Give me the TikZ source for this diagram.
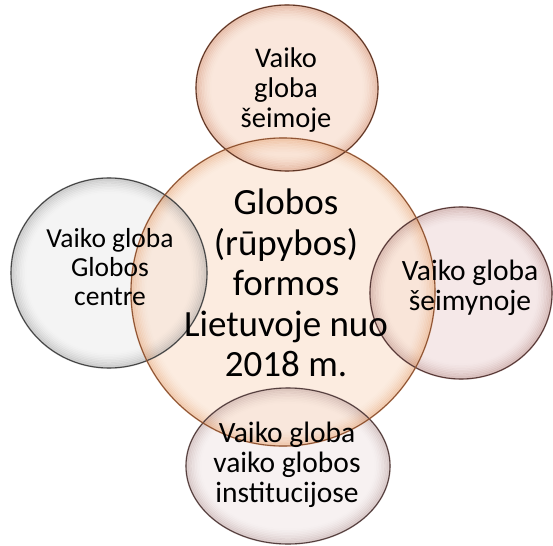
\documentclass[tikz,border=0pt]{standalone}
\usepackage{fontspec}
\setmainfont{Carlito}
\definecolor{cenIn}{HTML}{FBE4D4}
\definecolor{cenOut}{HTML}{E0925A}
\definecolor{cenLine}{HTML}{8E5434}
\definecolor{topIn}{HTML}{F9E2D5}
\definecolor{topOut}{HTML}{C87A58}
\definecolor{topLine}{HTML}{5E3626}
\definecolor{lefIn}{HTML}{F2F2F2}
\definecolor{lefOut}{HTML}{8A8A8A}
\definecolor{lefLine}{HTML}{454545}
\definecolor{rigIn}{HTML}{F4E4E3}
\definecolor{rigOut}{HTML}{A87670}
\definecolor{rigLine}{HTML}{573A38}
\definecolor{botIn}{HTML}{F6EEEE}
\definecolor{botOut}{HTML}{A88886}
\definecolor{botLine}{HTML}{543F3E}
\newcommand{\bubRing}[4]{%
  \foreach \k in {0,...,9}{%
    \pgfmathsetmacro\bop{0.36*(1-\k/10)^1.6}%
    \draw[draw=#4, draw opacity=\bop, line width=1.8pt] (#1) ellipse [x radius=#2pt-\k*1.6pt, y radius=#3pt-\k*1.6pt];
  }}
\begin{document}
\begin{tikzpicture}[x=1pt,y=-1pt,
  bubble/.style={fill=#1, fill opacity=0.82},
  rim/.style={draw=#1, line width=1.1pt},
  bigtxt/.style={align=center, inner sep=0pt, text=black, font=\fontsize{37}{40.5}\selectfont},
  smalltxt/.style={align=center, inner sep=0pt, text=black, font=\fontsize{#1}{30}\selectfont}]
\useasboundingbox (0,0) rectangle (553,545);
\fill[white] (0,0) rectangle (553,545);
\coordinate (pCen) at (283,292);
\coordinate (pTop) at (287,88);
\coordinate (pLef) at (109,273);
\coordinate (pRig) at (461,293);
\coordinate (pBot) at (288,466);
% fills
\path[bubble=topIn] (pTop) ellipse [x radius=91pt, y radius=83pt];
\path[bubble=lefIn] (pLef) ellipse [x radius=98pt, y radius=95pt];
\path[bubble=rigIn] (pRig) ellipse [x radius=91pt, y radius=86pt];
\path[bubble=botIn] (pBot) ellipse [x radius=102pt, y radius=78pt];
\path[bubble=cenIn, fill opacity=0.7] (pCen) ellipse [x radius=152pt, y radius=154pt];
% rim glow
\bubRing{pTop}{91}{83}{topOut}
\bubRing{pLef}{98}{95}{lefOut}
\bubRing{pRig}{91}{86}{rigOut}
\bubRing{pBot}{102}{78}{botOut}
\bubRing{pCen}{152}{154}{cenOut}
% outlines
\draw[rim=topLine] (pTop) ellipse [x radius=91pt, y radius=83pt];
\draw[rim=lefLine] (pLef) ellipse [x radius=98pt, y radius=95pt];
\draw[rim=rigLine] (pRig) ellipse [x radius=91pt, y radius=86pt];
\draw[rim=botLine] (pBot) ellipse [x radius=102pt, y radius=78pt];
\draw[rim=cenLine] (pCen) ellipse [x radius=152pt, y radius=154pt];
% texts
\node[bigtxt] (tCen) at (286,283.1) {Globos\\(rūpybos)\\formos\\Lietuvoje nuo\\2018 m.};
\node[smalltxt=28.5] (tTop) at (286,90) {Vaiko\\globa\\šeimoje};
\node[smalltxt=27.5, font=\fontsize{27.5}{29}\selectfont] (tLef) at (110,267.3) {Vaiko globa\\Globos\\centre};
\node[smalltxt=29.5] (tRig) at (470,287.8) {Vaiko globa\\šeimynoje};
\node[smalltxt=29.5] (tBot) at (287,464.7) {Vaiko globa\\vaiko globos\\institucijose};
\end{tikzpicture}
\end{document}
